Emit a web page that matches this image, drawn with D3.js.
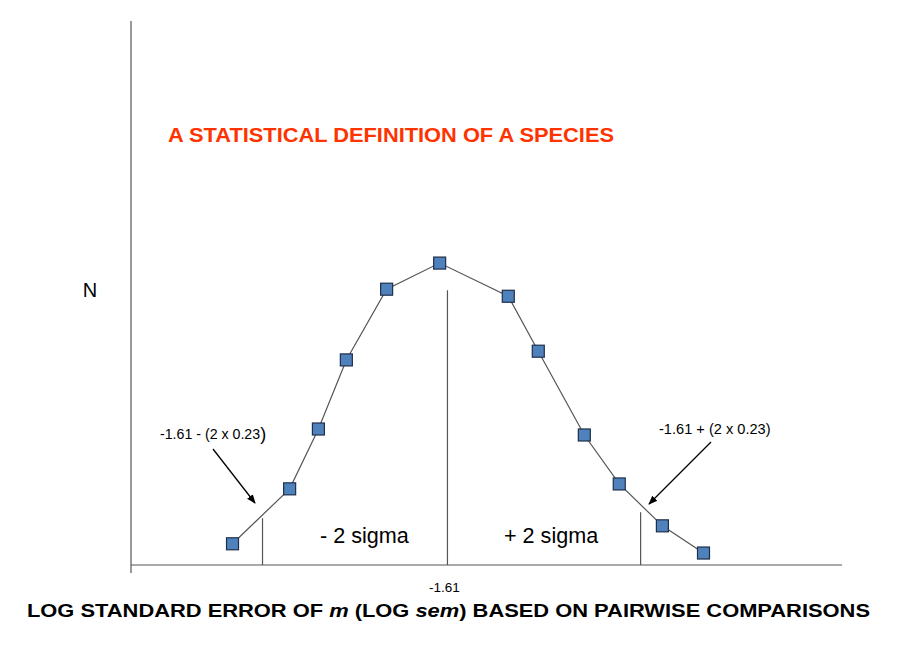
<!DOCTYPE html>
<html>
<head>
<meta charset="utf-8">
<script src="https://cdn.jsdelivr.net/npm/d3@7"></script>
<style>
  body { margin: 0; background: #fff; }
  svg { display: block; font-family: "Liberation Sans", Arial, sans-serif; }
</style>
</head>
<body>
<svg id="chart" width="900" height="652"></svg>
<script>
// log sem values (x) and relative frequency N (y)
const logSem = [-2.133, -1.994, -1.924, -1.856, -1.758, -1.629, -1.462, -1.389, -1.277, -1.192, -1.087, -0.987];
const counts = [3.9, 14.0, 25.0, 37.7, 50.7, 55.5, 49.4, 39.3, 23.9, 14.9, 7.2, 2.2];

const sigmaLines = [-2.06, -1.61, -1.14];
const sigmaTops = [8.6, 50.5, 9.7];
const tickValues = [-1.61];

const svg = d3.select("#chart");

const x = d3.scaleLinear().domain([-2.38, -0.65]).range([131, 842]);
const y = d3.scaleLinear().domain([0, 100]).range([565, 21]);

// axes
svg.append("line")
  .attr("x1", x(-2.38)).attr("x2", x(-2.38))
  .attr("y1", y(100)).attr("y2", y(0) + 8)
  .attr("stroke", "#555").attr("stroke-width", 1.2);

svg.append("line")
  .attr("x1", x(-2.38)).attr("x2", x(-0.65))
  .attr("y1", y(0)).attr("y2", y(0))
  .attr("stroke", "#555").attr("stroke-width", 1.2);

svg.selectAll(".tick-label")
  .data(tickValues)
  .join("text")
  .attr("x", (d) => x(d) - 3)
  .attr("y", 592)
  .attr("text-anchor", "middle")
  .attr("font-size", 13.5)
  .text((d) => d.toFixed(2));

// sigma marker lines
svg.selectAll(".sigma-line")
  .data(sigmaLines)
  .join("line")
  .attr("x1", (d) => x(d)).attr("x2", (d) => x(d))
  .attr("y1", (d, i) => y(sigmaTops[i]))
  .attr("y2", y(0))
  .attr("stroke", "#555").attr("stroke-width", 1.2);

// curve
const line = d3.line()
  .x((d, i) => x(logSem[i]))
  .y((d) => y(d));

svg.append("path")
  .datum(counts)
  .attr("d", line)
  .attr("fill", "none")
  .attr("stroke", "#555")
  .attr("stroke-width", 1.2);

svg.selectAll(".pt")
  .data(counts)
  .join("rect")
  .attr("x", (d, i) => x(logSem[i]) - 6)
  .attr("y", (d) => y(d) - 6)
  .attr("width", 12)
  .attr("height", 12)
  .attr("fill", "#4F81BD")
  .attr("stroke", "#1F2F4A")
  .attr("stroke-width", 1.2);

// arrows
const defs = svg.append("defs");
defs.append("marker")
  .attr("id", "arrow")
  .attr("viewBox", "0 0 10 10")
  .attr("refX", 9).attr("refY", 5)
  .attr("markerWidth", 7).attr("markerHeight", 7)
  .attr("orient", "auto")
  .append("path")
  .attr("d", "M0,1 L10,5 L0,9 Z")
  .attr("fill", "#000");

const arrows = [
  { x1: 213, y1: 449, x2: 255, y2: 503 },
  { x1: 711, y1: 442, x2: 649, y2: 504 },
];
svg.selectAll(".arrow")
  .data(arrows)
  .join("line")
  .attr("x1", (d) => d.x1).attr("y1", (d) => d.y1)
  .attr("x2", (d) => d.x2).attr("y2", (d) => d.y2)
  .attr("stroke", "#000").attr("stroke-width", 1.3)
  .attr("marker-end", "url(#arrow)");

// annotations
svg.append("text")
  .attr("x", 160).attr("y", 439)
  .attr("font-size", 14.2)
  .text("-1.61 - (2 x 0.23")
  .append("tspan")
  .attr("font-size", 18)
  .attr("dy", 1)
  .text(")");

svg.append("text")
  .attr("x", 659).attr("y", 434)
  .attr("font-size", 14.6)
  .text("-1.61 + (2 x 0.23)");

svg.append("text")
  .attr("x", 320).attr("y", 543)
  .attr("font-size", 21.6)
  .text("- 2 sigma");

svg.append("text")
  .attr("x", 504).attr("y", 543)
  .attr("font-size", 21.6)
  .text("+ 2 sigma");

svg.append("text")
  .attr("x", 90).attr("y", 297)
  .attr("text-anchor", "middle")
  .attr("font-size", 20)
  .text("N");

svg.append("text")
  .attr("x", 168).attr("y", 142)
  .attr("font-size", 19.5)
  .attr("font-weight", "bold")
  .attr("fill", "#FF3300")
  .attr("textLength", 446)
  .attr("lengthAdjust", "spacingAndGlyphs")
  .text("A STATISTICAL DEFINITION OF A SPECIES");

const xTitle = svg.append("text")
  .attr("x", 27).attr("y", 617)
  .attr("font-size", 19)
  .attr("font-weight", "bold")
  .attr("textLength", 843)
  .attr("lengthAdjust", "spacingAndGlyphs");
xTitle.append("tspan").text("LOG STANDARD ERROR OF ");
xTitle.append("tspan").attr("font-style", "italic").text("m");
xTitle.append("tspan").text(" (LOG ");
xTitle.append("tspan").attr("font-style", "italic").text("sem");
xTitle.append("tspan").text(") BASED ON PAIRWISE COMPARISONS");
</script>
</body>
</html>
